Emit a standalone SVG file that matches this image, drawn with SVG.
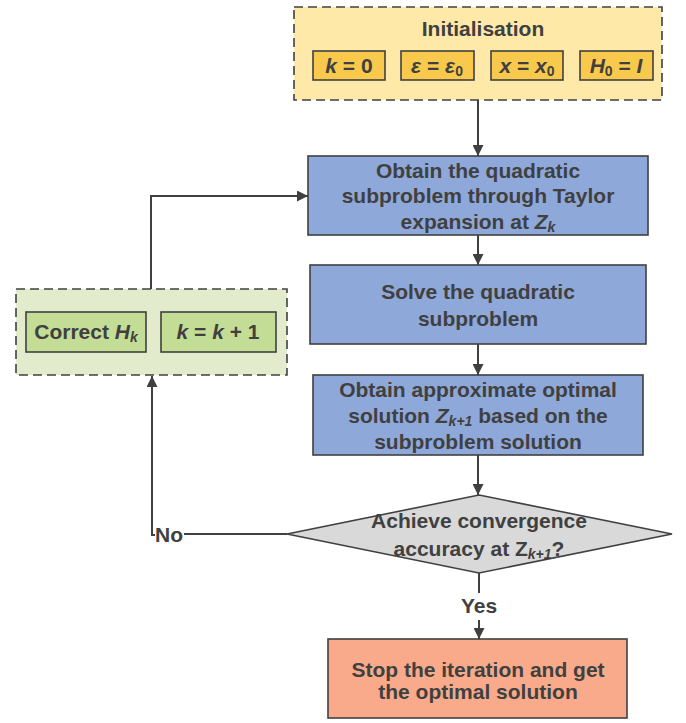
<svg xmlns="http://www.w3.org/2000/svg" width="686" height="723" viewBox="0 0 686 723">
  <defs>
    <marker id="arrow" viewBox="0 0 10 10" refX="10" refY="5" markerWidth="11" markerHeight="11" markerUnits="userSpaceOnUse" orient="auto">
      <path d="M0,0 L10,5 L0,10 z" fill="#404040"/>
    </marker>
    <style>
      text { font-family: "Liberation Sans", Arial, sans-serif; font-weight: bold; fill: #404040; font-size: 21px; text-anchor: middle; }
      .it { font-style: italic; }
      .sub { font-size: 14px; }
      .frame { stroke: #404040; stroke-width: 1.6; stroke-dasharray: 9 5; }
      .box { stroke: #404040; stroke-width: 1.6; }
      .conn { fill: none; stroke: #404040; stroke-width: 2; }
    </style>
  </defs>
  <rect width="686" height="723" fill="#ffffff"/>

  <!-- connectors -->
  <g id="connectors">
    <line class="conn" x1="478" y1="100" x2="478" y2="156" marker-end="url(#arrow)"/>
    <line class="conn" x1="478" y1="235" x2="478" y2="265" marker-end="url(#arrow)"/>
    <line class="conn" x1="478" y1="344" x2="478" y2="375" marker-end="url(#arrow)"/>
    <line class="conn" x1="478" y1="455" x2="478" y2="495" marker-end="url(#arrow)"/>
    <line class="conn" x1="479" y1="573" x2="479" y2="593"/>
    <line class="conn" x1="479" y1="620" x2="479" y2="639" marker-end="url(#arrow)"/>
    <path class="conn" d="M287,534 H184"/>
    <path class="conn" d="M155,535 H152 V376" marker-end="url(#arrow)"/>
    <path class="conn" d="M151,289 V196 H308" marker-end="url(#arrow)"/>
    <text x="155" y="542" style="text-anchor:start">No</text>
    <text x="479" y="613">Yes</text>
  </g>

  <!-- initialisation -->
  <g id="init">
    <rect class="frame" x="294" y="7" width="368" height="93" fill="#FEE9A8"/>
    <text x="483" y="36">Initialisation</text>
    <rect class="box" x="313" y="51" width="72" height="29" fill="#F8C94C"/>
    <rect class="box" x="401" y="51" width="73" height="29" fill="#F8C94C"/>
    <rect class="box" x="491" y="51" width="72" height="29" fill="#F8C94C"/>
    <rect class="box" x="580" y="51" width="73" height="29" fill="#F8C94C"/>
    <text x="349" y="73"><tspan class="it">k</tspan> = 0</text>
    <text x="437" y="73"><tspan class="it">ε</tspan> = <tspan class="it">ε</tspan><tspan class="sub" dy="3">0</tspan></text>
    <text x="527" y="73"><tspan class="it">x</tspan> = <tspan class="it">x</tspan><tspan class="sub" dy="3">0</tspan></text>
    <text x="616" y="73"><tspan class="it">H</tspan><tspan class="sub" dy="3">0</tspan><tspan dy="-3"> = </tspan><tspan class="it">I</tspan></text>
  </g>

  <!-- taylor expansion -->
  <g id="taylor">
    <rect class="box" x="308" y="156" width="340" height="79" fill="#8EA8D9"/>
    <text x="478" y="178">Obtain the quadratic</text>
    <text x="478" y="203">subproblem through Taylor</text>
    <text x="478" y="229">expansion at <tspan class="it">Z</tspan><tspan class="it sub" dy="3">k</tspan></text>
  </g>

  <!-- solve -->
  <g id="solve">
    <rect class="box" x="310" y="265" width="336" height="79" fill="#8EA8D9"/>
    <text x="478" y="299">Solve the quadratic</text>
    <text x="478" y="326">subproblem</text>
  </g>

  <!-- approximate solution -->
  <g id="approx">
    <rect class="box" x="313" y="375" width="330" height="80" fill="#8EA8D9"/>
    <text x="478" y="397">Obtain approximate optimal</text>
    <text x="478" y="423">solution <tspan class="it">Z</tspan><tspan class="it sub" dy="3">k+1</tspan><tspan dy="-3"> based on the</tspan></text>
    <text x="478" y="449">subproblem solution</text>
  </g>

  <!-- convergence check -->
  <g id="check">
    <polygon class="box" points="479,495 672,534 479,573 287,534" fill="#D9D9D9"/>
    <text x="479" y="528">Achieve convergence</text>
    <text x="479" y="556">accuracy at Z<tspan class="it sub" dy="3">k+1</tspan><tspan dy="-3">?</tspan></text>
  </g>

  <!-- update -->
  <g id="update">
    <rect class="frame" x="16" y="289" width="271" height="86" fill="#E3EBCD"/>
    <rect class="box" x="26" y="312" width="120" height="40" fill="#C4DD96"/>
    <rect class="box" x="161" y="312" width="115" height="40" fill="#C4DD96"/>
    <text x="86" y="339">Correct <tspan class="it">H</tspan><tspan class="it sub" dy="3">k</tspan></text>
    <text x="218" y="339"><tspan class="it">k</tspan> = <tspan class="it">k</tspan> + 1</text>
  </g>

  <!-- stop -->
  <g id="stop">
    <rect class="box" x="328" y="639" width="299" height="79" fill="#F9AA8A"/>
    <text x="478" y="677">Stop the iteration and get</text>
    <text x="478" y="699">the optimal solution</text>
  </g>
</svg>
